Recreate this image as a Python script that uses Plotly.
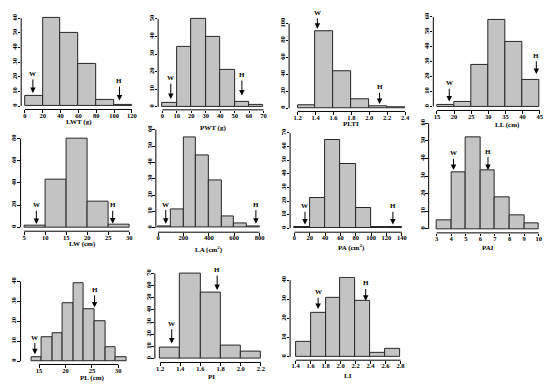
import plotly.graph_objects as go

W, H = 550, 384

# ---------------- data ----------------
names = ["LWT", "PWT", "PLTI", "LL", "LW", "LA", "PA", "PAI", "PL", "PI", "LI"]
xlabels = ["LWT (g)", "PWT (g)", "PLTI", "LL (cm)", "LW (cm)", "LA (cm<sup>2</sup>)",
           "PA (cm<sup>2</sup>)", "PAI", "PL (cm)", "PI", "LI"]

lwt_breaks = [0, 20, 40, 60, 80, 100, 120]
lwt_counts = [7, 60, 50, 29, 4, 1]
pwt_breaks = [0, 10, 20, 30, 40, 50, 60, 70]
pwt_counts = [2, 34, 50, 40, 21, 3, 1]
plti_breaks = [1.2, 1.4, 1.6, 1.8, 2.0, 2.2, 2.4]
plti_counts = [3, 91, 44, 10, 2, 1]
ll_breaks = [15, 20, 25, 30, 35, 40, 45]
ll_counts = [1, 3, 28, 58, 43, 18]
lw_breaks = [5, 10, 15, 20, 25, 30]
lw_counts = [1, 43, 80, 23, 2]
la_breaks = [0, 100, 200, 300, 400, 500, 600, 700, 800]
la_counts = [1, 11, 55, 44, 29, 7, 3, 1]
pa_breaks = [0, 20, 40, 60, 80, 100, 120, 140]
pa_counts = [1, 22, 65, 47, 15, 1, 1]
pai_breaks = [3, 4, 5, 6, 7, 8, 9, 10]
pai_counts = [5, 32, 52, 33, 18, 8, 3]
pl_breaks = [13.5, 15.5, 17.5, 19.5, 21.5, 23.5, 25.5, 27.5, 29.5, 31.5]
pl_counts = [2, 12, 14, 29, 39, 26, 20, 7, 2]
pi_breaks = [1.2, 1.4, 1.6, 1.8, 2.0, 2.2]
pi_counts = [9, 70, 54, 11, 6]
li_breaks = [1.4, 1.6, 1.8, 2.0, 2.2, 2.4, 2.6, 2.8]
li_counts = [8, 23, 31, 41, 29, 2, 4]

# wild (W) and hybrid (H) values marked by arrows
w_values = [9, 5.8, 1.42, 18.6, 7.9, 60, 13.8, 4.16, 14.2, 1.315, 1.70]
h_values = [106, 55, 2.115, 44, 26.05, 771, 128.4, 6.52, 25.5, 1.766, 2.335]

# tick labels
x_ticks = [
    ["0", "20", "40", "60", "80", "100", "120"],
    ["0", "10", "20", "30", "40", "50", "60", "70"],
    ["1.2", "1.4", "1.6", "1.8", "2.0", "2.2", "2.4"],
    ["15", "20", "25", "30", "35", "40", "45"],
    ["5", "10", "15", "20", "25", "30"],
    ["0", "200", "400", "600", "800"],
    ["0", "20", "40", "60", "80", "100", "120", "140"],
    ["3", "4", "5", "6", "7", "8", "9", "10"],
    ["15", "20", "25", "30"],
    ["1.2", "1.4", "1.6", "1.8", "2.0", "2.2"],
    ["1.4", "1.6", "1.8", "2.0", "2.2", "2.4", "2.6", "2.8"],
]
y_ticks = [
    ["0", "10", "20", "30", "40", "50", "60"],
    ["0", "10", "20", "30", "40", "50"],
    ["0", "20", "40", "60", "80", "100"],
    ["0", "10", "20", "30", "40", "50", "60"],
    ["0", "20", "40", "60", "80"],
    ["0", "10", "20", "30", "40", "50", "60"],
    ["0", "10", "20", "30", "40", "50", "60", "70"],
    ["0", "10", "20", "30", "40", "50", "60"],
    ["0", "10", "20", "30", "40"],
    ["0", "10", "20", "30", "40", "50", "60", "70"],
    ["0", "10", "20", "30", "40"],
]

breaks = [lwt_breaks, pwt_breaks, plti_breaks, ll_breaks, lw_breaks, la_breaks,
          pa_breaks, pai_breaks, pl_breaks, pi_breaks, li_breaks]
counts = [lwt_counts, pwt_counts, plti_counts, ll_counts, lw_counts, la_counts,
          pa_counts, pai_counts, pl_counts, pi_counts, li_counts]

# ---------------- layout geometry (pixels) ----------------
geom = [
    dict(L=21.3, B=107.3, xc=(0, 25, 120, 132.7), yc=(104, 60, 15.3), t=(79, 119.5),
         w=(21.9, 9.0), h=(16.9, 3.9)),
    dict(L=159, B=107.7, xc=(0, 163.3, 70, 265), yc=(104.7, 50, 16), t=(214, 126),
         w=(16.2, 4.5), h=(18, 6.4)),
    dict(L=290.7, B=109.3, xc=(1.2, 299.3, 2.4, 407.3), yc=(106, 100, 20.7), t=(352.7, 122),
         w=(112.5, 93.8), h=(24.6, 5.0)),
    dict(L=435.7, B=108.3, xc=(15, 439.3, 45, 542.7), yc=(104.3, 60, 14), t=(510, 123.3),
         w=(15.5, 3.3), h=(33.9, 21.7)),
    dict(L=20.7, B=230, xc=(5, 24.3, 30, 130), yc=(226, 80, 136.7), t=(83.3, 243.3),
         w=(19.7, 3.0), h=(19.7, 3.3)),
    dict(L=156.7, B=231, xc=(0, 159, 800, 261), yc=(226.7, 60, 127.7), t=(210, 248.3),
         w=(14.2, 2.6), h=(14.2, 2.6)),
    dict(L=291.7, B=231, xc=(0, 296, 140, 404), yc=(227, 70, 131), t=(353.3, 246.7),
         w=(16, 2.7), h=(16, 2.7)),
    dict(L=431, B=231.7, xc=(3, 439, 10, 541.7), yc=(227.7, 50, 139), t=(491, 246.7),
         w=(42.8, 33.5), h=(43.8, 33.5)),
    dict(L=20.7, B=364.3, xc=(15, 39.3, 30, 119), yc=(361, 40, 280.7), t=(93, 378.3),
         w=(11.8, 3.5), h=(35.7, 27)),
    dict(L=155.7, B=362.3, xc=(1.2, 161, 2.2, 262.3), yc=(358.3, 70, 272.7), t=(212.3, 377.3),
         w=(28.6, 12.3), h=(72.8, 56.4)),
    dict(L=291.7, B=360, xc=(1.4, 297.3, 2.8, 402.7), yc=(356.7, 40, 279.3), t=(350, 376),
         w=(33.6, 25), h=(38.2, 29.3)),
]

FONT = "Liberation Serif"
fig = go.Figure()
shapes, annotations = [], []
layout = dict(
    width=W, height=H, margin=dict(l=0, r=0, t=0, b=0),
    paper_bgcolor="white", plot_bgcolor="white", showlegend=False,
    font=dict(family=FONT, size=7, color="black", weight="bold"),
    bargap=0,
)

for i in range(len(names)):
    n = i + 1
    g = geom[i]
    xa = "x" if n == 1 else f"x{n}"
    ya = "y" if n == 1 else f"y{n}"
    brk, cnt = breaks[i], counts[i]
    xt = [float(v) for v in x_ticks[i]]
    yt = [float(v) for v in y_ticks[i]]

    xv0, xp0, xv1, xp1 = g["xc"]
    sx = (xp1 - xp0) / (xv1 - xv0)
    L = g["L"]
    xmax = max(xt[-1], brk[-1])
    Rp = xp0 + (xmax - xv0) * sx + (xp0 - L)
    xr = [xv0 + (L - xp0) / sx, xv0 + (Rp - xp0) / sx]

    yp0, yv1, yp1 = g["yc"]
    sy = (yp0 - yp1) / yv1
    B = g["B"]
    ytop_px = yp0 - yt[-1] * sy
    T = ytop_px - (B - yp0)
    yr = [-(B - yp0) / sy, yt[-1] + (ytop_px - T) / sy]

    mids = [(a + b) / 2 for a, b in zip(brk[:-1], brk[1:])]
    widths = [b - a for a, b in zip(brk[:-1], brk[1:])]
    fig.add_trace(go.Bar(
        x=mids, y=cnt, width=widths, xaxis=xa, yaxis=ya, cliponaxis=False,
        marker=dict(color="#c3c3c3", line=dict(color="#262626", width=1)),
        hoverinfo="skip", showlegend=False,
    ))

    common = dict(showgrid=False, zeroline=False, showline=False, ticks="outside",
                  ticklen=2.5, tickwidth=1, tickcolor="black",
                  tickfont=dict(family=FONT, size=6.5, color="black", weight="bold"))
    layout["xaxis" if n == 1 else f"xaxis{n}"] = dict(
        domain=[L / W, Rp / W], range=xr, anchor=ya, ticklabelstandoff=-3,
        tickmode="array", tickvals=xt, ticktext=x_ticks[i], **common)
    layout["yaxis" if n == 1 else f"yaxis{n}"] = dict(
        domain=[1 - B / H, 1 - T / H], range=yr, anchor=xa, ticklabelstandoff=-2,
        tickmode="array", tickvals=yt, ticktext=y_ticks[i], tickangle=-90, **common)

    shapes.append(dict(type="line", xref=xa, yref=f"{ya} domain", x0=xt[0], x1=xt[-1],
                       y0=0, y1=0, line=dict(color="black", width=1)))
    shapes.append(dict(type="line", xref=f"{xa} domain", yref=ya, x0=0, x1=0,
                       y0=yt[0], y1=yt[-1], line=dict(color="black", width=1)))

    annotations.append(dict(text=xlabels[i], xref="paper", yref="paper",
                            x=g["t"][0] / W, y=1 - g["t"][1] / H, showarrow=False,
                            xanchor="center", yanchor="middle",
                            font=dict(family=FONT, size=7, color="black", weight="bold")))
    for lab, xv, (ty, tip) in (("W", w_values[i], g["w"]), ("H", h_values[i], g["h"])):
        annotations.append(dict(text=lab, xref=xa, yref=ya, x=xv, y=tip,
                                ax=0, ay=-(ty - tip) * sy, showarrow=True,
                                arrowhead=2, arrowsize=1.1, arrowwidth=1, arrowcolor="black",
                                font=dict(family=FONT, size=7, color="black", weight="bold")))

layout["shapes"] = shapes
layout["annotations"] = annotations
fig.update_layout(**layout)
fig.write_html("out.html", config={"displayModeBar": False},
               post_script="document.body.style.margin='0px';")
